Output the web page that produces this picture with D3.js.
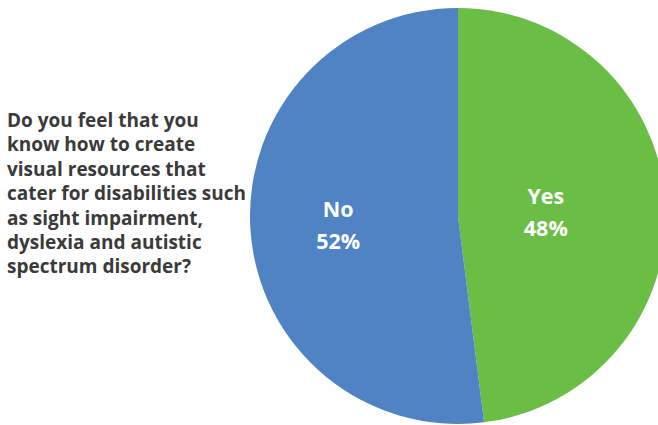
<!DOCTYPE html>
<html><head><meta charset="utf-8">
<script src="https://cdn.jsdelivr.net/npm/d3@7"></script>
<style>body{margin:0;background:#fff;}svg{display:block;}</style>
</head><body>
<svg id="c" width="658" height="425"></svg>
<script>
const categories = ["Yes", "No"];
const values = [48, 52];
const colors = ["#6abd45", "#4f83c4"];
const titleLines = ["Do you feel that you", "know how to create", "visual resources that", "cater for disabilities such", "as sight impairment,", "dyslexia and autistic", "spectrum disorder?"];

const svg = d3.select("#c");
const cx = 458, cy = 216, R = 208;
const data = categories.map((c, i) => ({cat: c, value: values[i], color: colors[i]}));
const pie = d3.pie().sort(null).value(d => d.value);
const arc = d3.arc().innerRadius(0).outerRadius(R);
const g = svg.append("g").attr("transform", `translate(${cx},${cy})`);
const arcs = pie(data);
g.selectAll("path").data(arcs).join("path").attr("d", arc).attr("fill", d => d.data.color);

const labelR = {Yes: 88, No: 120};
arcs.forEach(a => {
  const la = d3.arc().innerRadius(labelR[a.data.cat]).outerRadius(labelR[a.data.cat]);
  const [x, y] = la.centroid(a);
  const t = g.append("text").attr("x", x).attr("y", y).attr("text-anchor", "middle")
    .attr("fill", "#fff").attr("font-family", "'Open Sans', sans-serif").attr("font-weight", "bold").attr("font-size", 21.5);
  t.append("tspan").attr("x", x).attr("dy", "-0.3em").text(a.data.cat);
  t.append("tspan").attr("x", x).attr("dy", "1.5em").text(a.data.value + "%");
});

const tt = svg.append("text").attr("x", 7).attr("y", 127)
  .attr("fill", "#3a3a3a").attr("font-family", "'Open Sans', sans-serif").attr("font-weight", "bold").attr("font-size", 19);
titleLines.forEach((l, i) => tt.append("tspan").attr("x", 7).attr("y", 127 + i * 24.4).text(l));
</script>
</body></html>
